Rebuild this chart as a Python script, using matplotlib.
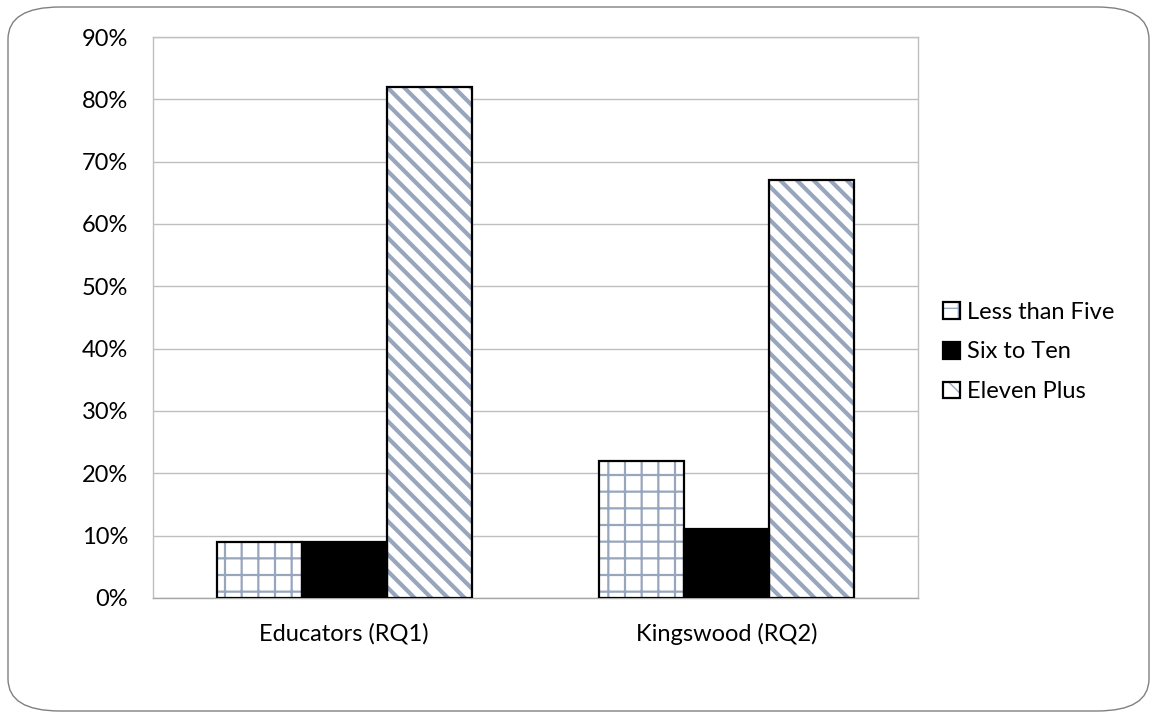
import numpy as np
import matplotlib.pyplot as plt
from matplotlib.patches import FancyBboxPatch, Rectangle
from matplotlib.legend_handler import HandlerTuple

plt.rcParams['font.family'] = ['Lato', 'DejaVu Sans']

groups = ['Educators (RQ1)', 'Kingswood (RQ2)']
series = ['Less than Five', 'Six to Ten', 'Eleven Plus']
less_than_five = [9, 22]
six_to_ten = [9, 11]
eleven_plus = [82, 67]
yticks = [0, 10, 20, 30, 40, 50, 60, 70, 80, 90]

hatch_col = '#98a6bd'

fig = plt.figure(figsize=(11.57, 7.15), dpi=100)
ax = fig.add_axes([153 / 1157, 1 - 598 / 715, 765 / 1157, 561 / 715])

x = np.arange(len(groups))
w = 0.222
styles = [
    dict(face='white', hatch='+', leg_hatch='+', hlw=1.6),
    dict(face='black', hatch=None, leg_hatch=None, hlw=1.6),
    dict(face='white', hatch='\\\\', leg_hatch='\\', hlw=3.0),
]
values = [less_than_five, six_to_ten, eleven_plus]
handles = []
for i, (vals, name, st) in enumerate(zip(values, series, styles)):
    pos = x + (i - 1) * w
    with plt.rc_context({'hatch.linewidth': st['hlw']}):
        # fill + hatch in blue-grey, outline drawn separately in black
        ax.bar(pos, vals, w, facecolor=st['face'], edgecolor=hatch_col,
               hatch=st['hatch'], linewidth=0, zorder=3)
        fill = Rectangle((0, 0), 1, 1, facecolor=st['face'],
                         edgecolor=hatch_col, linewidth=0,
                         hatch=st['leg_hatch'])
    ax.bar(pos, vals, w, facecolor='none', edgecolor='black',
           linewidth=1.6, zorder=4)
    edge = Rectangle((0, 0), 1, 1, facecolor='none', edgecolor='black',
                     linewidth=1.6)
    handles.append((fill, edge))

ax.set_xlim(-0.5, 1.5)
ax.set_ylim(0, 90)
ax.set_yticks(yticks)
ax.set_yticklabels([f'{v}%' for v in yticks])
ax.set_xticks(x)
ax.set_xticklabels(groups)
ax.tick_params(length=0, labelsize=17, colors='black')
ax.tick_params(axis='y', pad=18)
ax.tick_params(axis='x', pad=18)
ax.grid(axis='y', color='#bfbfbf', linewidth=1.0, zorder=0)
for s in ax.spines.values():
    s.set_color('#bfbfbf')
    s.set_linewidth(1.0)
ax.spines['bottom'].set_color('#a6a6a6')

ax.legend(handles, series, loc='center left',
          bbox_to_anchor=(922 / 1157, 1 - 352 / 715),
          bbox_transform=fig.transFigure, frameon=False, fontsize=17,
          handlelength=0.7, handleheight=0.7, handletextpad=0.3,
          labelspacing=0.8,
          handler_map={tuple: HandlerTuple(ndivide=1, pad=0)})

fig.patches.append(FancyBboxPatch((8 / 1157, 4 / 715), 1141 / 1157, 704 / 715,
                                  boxstyle='round,pad=0,rounding_size=0.045',
                                  transform=fig.transFigure, facecolor='none',
                                  edgecolor='#808080', linewidth=1.0))

fig.savefig('out.png', dpi=100)
